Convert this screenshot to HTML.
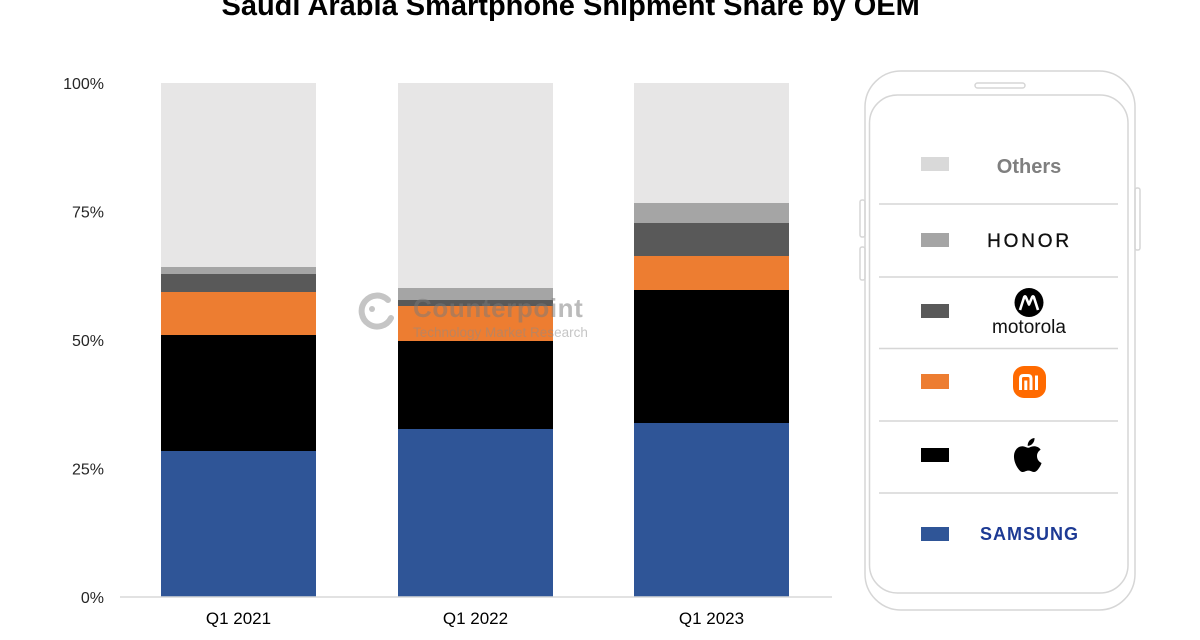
<!DOCTYPE html>
<html>
<head>
<meta charset="utf-8">
<style>
  html, body { margin: 0; padding: 0; background: #ffffff; }
  body { width: 1200px; height: 640px; overflow: hidden; }
  svg { display: block; font-family: "Liberation Sans", Arial, sans-serif; }
</style>
</head>
<body>
<svg width="1200" height="640" viewBox="0 0 1200 640" xmlns="http://www.w3.org/2000/svg">
  <rect x="0" y="0" width="1200" height="640" fill="#ffffff"/>

  <!-- Title (cut off at top) -->
  <text x="221.5" y="15" font-size="29" font-weight="bold" fill="#000000">Saudi Arabia Smartphone Shipment Share by OEM</text>

  <!-- Y axis labels -->
  <g font-size="16" fill="#262626" text-anchor="end">
    <text x="104" y="89">100%</text>
    <text x="104" y="217.5">75%</text>
    <text x="104" y="346">50%</text>
    <text x="104" y="474.5">25%</text>
    <text x="104" y="603">0%</text>
  </g>

  <!-- Bar 1: Q1 2021 -->
  <g>
    <rect x="161" y="83" width="155" height="184" fill="#e7e6e6"/>
    <rect x="161" y="267" width="155" height="7" fill="#a5a5a5"/>
    <rect x="161" y="274" width="155" height="18" fill="#595959"/>
    <rect x="161" y="292" width="155" height="43" fill="#ed7d31"/>
    <rect x="161" y="335" width="155" height="116" fill="#000000"/>
    <rect x="161" y="451" width="155" height="146" fill="#2f5597"/>
  </g>
  <!-- Bar 2: Q1 2022 -->
  <g>
    <rect x="398" y="83" width="155" height="205" fill="#e7e6e6"/>
    <rect x="398" y="288" width="155" height="12" fill="#a5a5a5"/>
    <rect x="398" y="300" width="155" height="6" fill="#595959"/>
    <rect x="398" y="306" width="155" height="35" fill="#ed7d31"/>
    <rect x="398" y="341" width="155" height="88" fill="#000000"/>
    <rect x="398" y="429" width="155" height="168" fill="#2f5597"/>
  </g>
  <!-- Bar 3: Q1 2023 -->
  <g>
    <rect x="634" y="83" width="155" height="120" fill="#e7e6e6"/>
    <rect x="634" y="203" width="155" height="20" fill="#a5a5a5"/>
    <rect x="634" y="223" width="155" height="33" fill="#595959"/>
    <rect x="634" y="256" width="155" height="34" fill="#ed7d31"/>
    <rect x="634" y="290" width="155" height="133" fill="#000000"/>
    <rect x="634" y="423" width="155" height="174" fill="#2f5597"/>
  </g>

  <!-- Axis line -->
  <line x1="120" y1="597" x2="832" y2="597" stroke="#d9d9d9" stroke-width="1.5"/>

  <!-- X labels -->
  <g font-size="17" fill="#000000" text-anchor="middle">
    <text x="238.5" y="624">Q1 2021</text>
    <text x="475.5" y="624">Q1 2022</text>
    <text x="711.5" y="624">Q1 2023</text>
  </g>

  <!-- Watermark -->
  <g opacity="0.5">
    <path d="M 388 300 A 15.5 15.5 0 1 0 391 318" fill="none" stroke="#8c8c8c" stroke-width="6" stroke-linecap="round"/>
    <circle cx="372" cy="309" r="3" fill="#8c8c8c"/>
    <text x="413" y="317" font-size="26" font-weight="bold" fill="#7a7a7a" letter-spacing="0.6">Counterpoint</text>
    <text x="413" y="337" font-size="13.5" fill="#8c8c8c">Technology Market Research</text>
  </g>

  <!-- Phone frame -->
  <g fill="none" stroke="#d6d6d6" stroke-width="1.5">
    <rect x="865" y="71" width="270" height="539" rx="36" ry="36" fill="#ffffff"/>
    <rect x="869.5" y="95" width="258.5" height="498" rx="28" ry="28"/>
    <rect x="975" y="83" width="50" height="5" rx="2.5" ry="2.5"/>
    <rect x="860" y="200" width="5" height="37" rx="2" ry="2"/>
    <rect x="860" y="247" width="5" height="33" rx="2" ry="2"/>
    <rect x="1135" y="188" width="5" height="62" rx="2" ry="2"/>
  </g>

  <!-- Dividers -->
  <g stroke="#d6d6d6" stroke-width="1.5">
    <line x1="879" y1="204" x2="1118" y2="204"/>
    <line x1="879" y1="277" x2="1118" y2="277"/>
    <line x1="879" y1="348.5" x2="1118" y2="348.5"/>
    <line x1="879" y1="421" x2="1118" y2="421"/>
    <line x1="879" y1="493" x2="1118" y2="493"/>
  </g>

  <!-- Legend swatches -->
  <rect x="921" y="157" width="28" height="14" fill="#d9d9d9"/>
  <rect x="921" y="233" width="28" height="14" fill="#a5a5a5"/>
  <rect x="921" y="304" width="28" height="14" fill="#595959"/>
  <rect x="921" y="374" width="28" height="15" fill="#ed7d31"/>
  <rect x="921" y="448" width="28" height="14" fill="#000000"/>
  <rect x="921" y="527" width="28" height="14" fill="#2f5597"/>

  <!-- Legend labels / logos -->
  <text x="1029" y="173" font-size="20" font-weight="bold" fill="#7f7f7f" text-anchor="middle">Others</text>
  <text x="1029.5" y="247" font-size="19" fill="#111111" stroke="#111111" stroke-width="0.35" text-anchor="middle" letter-spacing="2.8">HONOR</text>

  <!-- Motorola -->
  <circle cx="1029" cy="302.5" r="14.5" fill="#000000"/>
  <path d="M 1020 310 L 1024.2 297 Q 1025 295.5 1025.8 297 L 1029 304.5 L 1032.2 297 Q 1033 295.5 1033.8 297 L 1038 310" fill="none" stroke="#ffffff" stroke-width="2.6" stroke-linejoin="round"/>
  <text x="1029" y="333" font-size="19" fill="#111111" text-anchor="middle">motorola</text>

  <!-- Xiaomi -->
  <rect x="1013" y="366" width="33" height="32" rx="11" ry="11" fill="#ff6a00"/>
  <path d="M 1020.5 390 V 378.5 Q 1020.5 375.5 1023.5 375.5 H 1028 Q 1031 375.5 1031 378.5 V 390" fill="none" stroke="#ffffff" stroke-width="3"/>
  <line x1="1025.8" y1="380.5" x2="1025.8" y2="390" stroke="#ffffff" stroke-width="3"/>
  <line x1="1036.5" y1="375.5" x2="1036.5" y2="390" stroke="#ffffff" stroke-width="3"/>

  <!-- Apple -->
  <g transform="translate(1007.4 434.6) scale(1.7)">
    <path d="M18.71 19.5c-.83 1.24-1.71 2.45-3.05 2.47-1.34.03-1.77-.79-3.29-.79-1.53 0-2 .77-3.27.82-1.310.05-2.3-1.32-3.14-2.53C4.25 17 2.94 12.450 4.7 9.39c.87-1.520 2.43-2.48 4.12-2.51 1.28-.02 2.5.87 3.29.87.78 0 2.26-1.07 3.81-.91.65.03 2.47.26 3.64 1.98-.09.06-2.17 1.28-2.15 3.81.03 3.02 2.65 4.03 2.68 4.04-.03.07-.42 1.44-1.38 2.83M13 3.5c.73-.83 1.94-1.46 2.94-1.5.13 1.17-.34 2.35-1.04 3.19-.69.85-1.83 1.51-2.95 1.42-.15-1.150.41-2.35 1.05-3.11z" fill="#000000"/>
  </g>

  <!-- Samsung -->
  <text x="1029.5" y="540" font-size="18" font-weight="bold" fill="#1d3a94" text-anchor="middle" letter-spacing="1">SAMSUNG</text>
</svg>
</body>
</html>
